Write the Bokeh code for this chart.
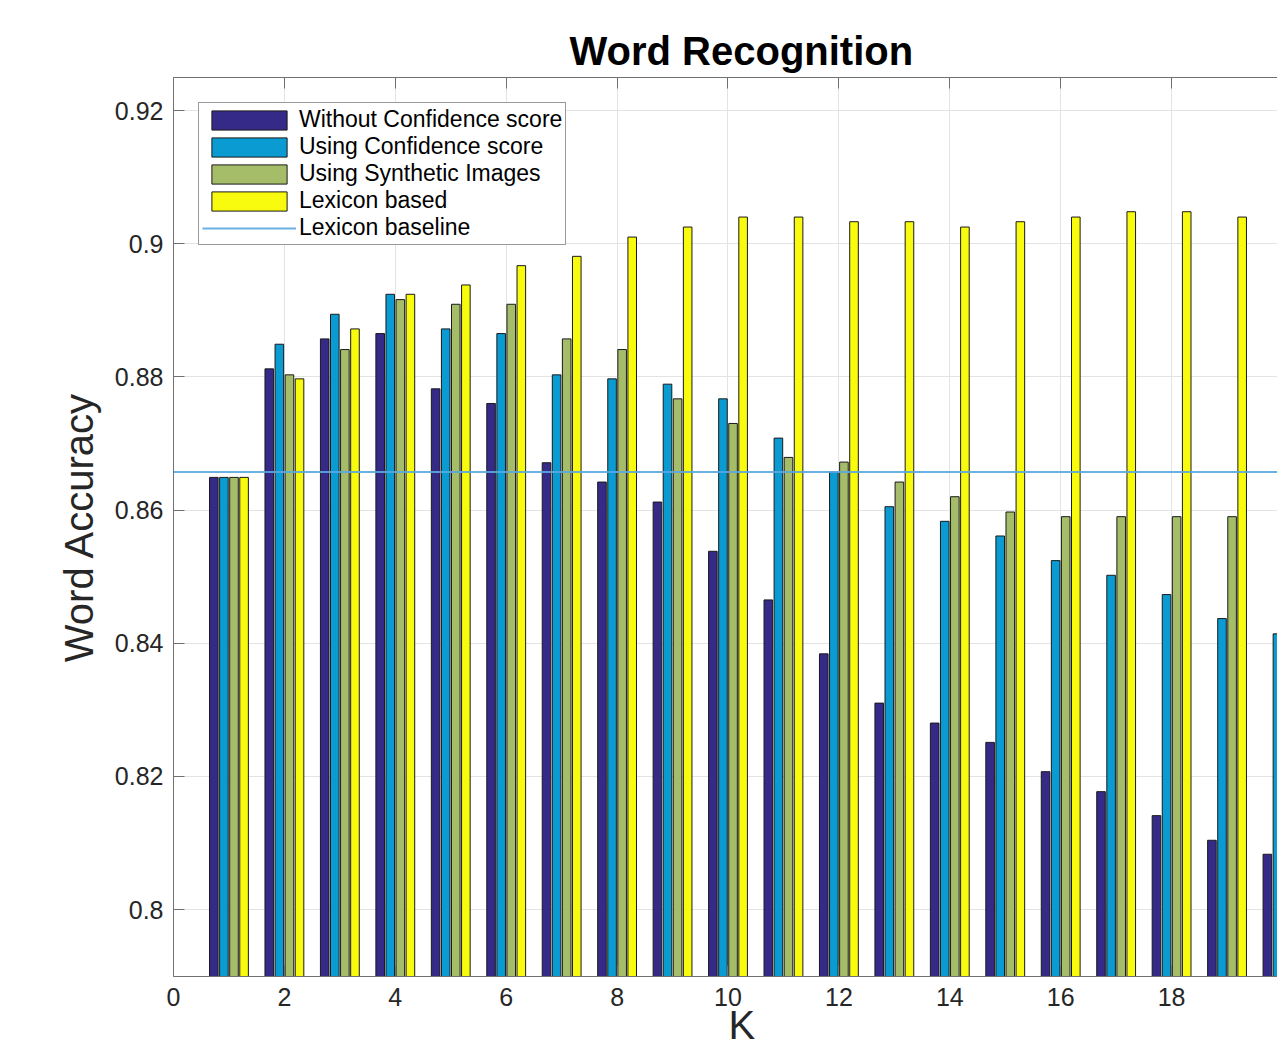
from bokeh.plotting import figure
from bokeh.models import (ColumnDataSource, Range1d, FixedTicker, LinearAxis, Title,
                          CustomJSTickFormatter, Legend, LegendItem)
from bokeh.transform import dodge
from bokeh.embed import file_html
from bokeh.resources import INLINE

# ---------------- data ----------------
K = list(range(1, 21))
without_conf = [0.8649, 0.8812, 0.8857, 0.8865, 0.8782, 0.8760, 0.8671, 0.8642, 0.8612, 0.8538,
                0.8465, 0.8384, 0.8310, 0.8280, 0.8251, 0.8207, 0.8177, 0.8141, 0.8104, 0.8083]
using_conf = [0.8649, 0.8849, 0.8894, 0.8924, 0.8872, 0.8865, 0.8803, 0.8797, 0.8789, 0.8767,
              0.8708, 0.8657, 0.8605, 0.8583, 0.8561, 0.8524, 0.8502, 0.8473, 0.8437, 0.8414]
synthetic = [0.8649, 0.8803, 0.8841, 0.8916, 0.8909, 0.8909, 0.8857, 0.8841, 0.8767, 0.8730,
             0.8679, 0.8672, 0.8642, 0.8620, 0.8597, 0.8590, 0.8590, 0.8590, 0.8590, 0.8590]
lexicon = [0.8649, 0.8797, 0.8872, 0.8924, 0.8938, 0.8967, 0.8981, 0.9010, 0.9025, 0.9040,
           0.9040, 0.9033, 0.9033, 0.9025, 0.9033, 0.9040, 0.9048, 0.9048, 0.9040, 0.9040]
lexicon_baseline = 0.8657

series_names = ["Without Confidence score", "Using Confidence score",
                "Using Synthetic Images", "Lexicon based"]
baseline_name = "Lexicon baseline"
x_ticks = list(range(0, 21, 2))
y_ticks = [0.80, 0.82, 0.84, 0.86, 0.88, 0.90, 0.92]
title_text = "Word Recognition"
x_label = "K"
y_label = "Word Accuracy"

# ---------------- styling ----------------
colors = ["#352a87", "#0a9bd2", "#a5bd69", "#f9fb0e"]
offsets = [-0.2727, -0.0909, 0.0909, 0.2727]
bar_w = 0.155
FONT = "Liberation Sans"
TXT = "#262626"
AX = "#707070"
GRID = "#e3e3e3"
BASE = "#5aa7e0"

src = ColumnDataSource(dict(K=K, s0=without_conf, s1=using_conf, s2=synthetic, s3=lexicon))

p = figure(width=1277, height=1043, output_backend="svg", toolbar_location=None,
           x_range=Range1d(0, 19.91), y_range=Range1d(0.78994, 0.92496),
           min_border_left=173, min_border_right=0, min_border_top=77, min_border_bottom=67)
p.outline_line_color = None
p.background_fill_color = "white"
p.border_fill_color = "white"

renderers = []
for i, (name, col, off) in enumerate(zip(series_names, colors, offsets)):
    r = p.vbar(x=dodge("K", off, range=p.x_range), top="s%d" % i, bottom=0.70, width=bar_w,
               source=src, fill_color=col, line_color="#1a1a1a", line_width=1)
    renderers.append(r)

# baseline across the whole K extent
base_r = p.line(x=[0, K[-1] + 1], y=[lexicon_baseline, lexicon_baseline],
                line_color=BASE, line_width=2, line_alpha=0.9)

# axes
for ax in (p.xaxis[0], p.yaxis[0]):
    ax.axis_line_color = AX
    ax.major_tick_line_color = AX
    ax.major_tick_in = 11
    ax.major_tick_out = 0
    ax.minor_tick_line_color = None
    ax.major_label_text_font = FONT
    ax.major_label_text_font_size = "25px"
    ax.major_label_text_color = TXT

p.xaxis[0].ticker = FixedTicker(ticks=x_ticks)
p.xaxis[0].major_label_standoff = 11
p.yaxis[0].ticker = FixedTicker(ticks=y_ticks)
p.yaxis[0].major_label_standoff = 10
p.yaxis[0].formatter = CustomJSTickFormatter(code="var s = tick.toFixed(2); return s.replace(/0$/, '');")
p.yaxis[0].axis_label = y_label
p.yaxis[0].axis_label_text_font = FONT
p.yaxis[0].axis_label_text_font_size = "40px"
p.yaxis[0].axis_label_text_font_style = "normal"
p.yaxis[0].axis_label_text_color = TXT
p.yaxis[0].axis_label_standoff = 11

top_axis = LinearAxis(ticker=FixedTicker(ticks=x_ticks), axis_line_color=AX,
                      major_tick_line_color=AX, major_tick_in=11, major_tick_out=0,
                      minor_tick_line_color=None, major_label_standoff=0,
                      major_label_text_font_size="1px",
                      formatter=CustomJSTickFormatter(code="return '';"))
p.add_layout(top_axis, "above")

p.xgrid.ticker = FixedTicker(ticks=x_ticks)
p.ygrid.ticker = FixedTicker(ticks=y_ticks)
p.xgrid.grid_line_color = GRID
p.ygrid.grid_line_color = GRID

# title (centred on the original, wider axes)
p.add_layout(Title(text=title_text, align="left", offset=396, text_font=FONT,
                   text_font_size="40px", text_font_style="bold", text_color="black",
                   standoff=10), "above")
# x label
p.add_layout(Title(text=x_label, align="left", offset=555, text_font=FONT,
                   text_font_size="40px", text_font_style="normal", text_color=TXT,
                   vertical_align="top", standoff=-12), "below")

items = [LegendItem(label=n, renderers=[r]) for n, r in zip(series_names, renderers)]
items.append(LegendItem(label=baseline_name, renderers=[base_r]))
legend = Legend(items=items, location="top_left", margin=25, padding=3, spacing=0,
                glyph_width=94, glyph_height=24, label_height=27, label_standoff=3,
                label_text_font=FONT, label_text_font_size="23px", label_text_color="black",
                border_line_color="#333333", border_line_width=1,
                background_fill_color="white", background_fill_alpha=1)
p.add_layout(legend, "center")

open("out.html", "w").write(file_html(p, INLINE))
